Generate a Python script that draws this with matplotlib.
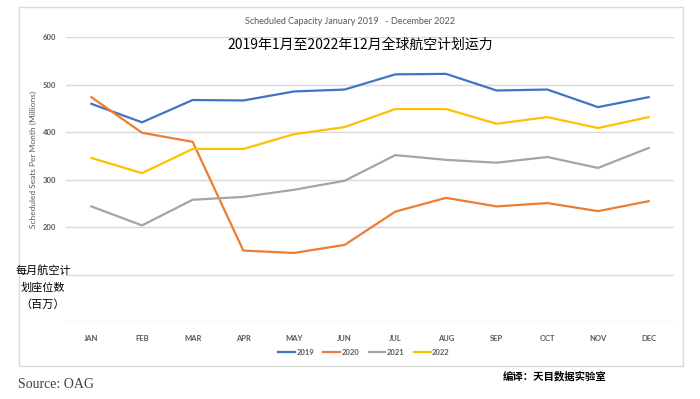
import matplotlib.pyplot as plt
from matplotlib.patches import Rectangle

months = ["JAN", "FEB", "MAR", "APR", "MAY", "JUN", "JUL", "AUG", "SEP", "OCT", "NOV", "DEC"]
y2019 = [460, 421, 468, 467, 486, 490, 522, 523, 488, 490, 453, 474]
y2020 = [474, 399, 380, 151, 146, 163, 233, 262, 244, 251, 234, 255]
y2021 = [244, 204, 258, 264, 279, 298, 352, 342, 336, 348, 325, 367]
y2022 = [346, 314, 365, 365, 396, 411, 449, 449, 418, 432, 409, 432]
yticks = [0, 100, 200, 300, 400, 500, 600]
ytick_labels = ["", "", "200", "300", "400", "500", "600"]

plt.rcParams["font.family"] = ["Lato", "Noto Sans CJK SC", "DejaVu Sans"]
fig = plt.figure(figsize=(7, 3.99), dpi=100)

# outer chart border
fig.patches.append(Rectangle((19 / 700, 1 - 366 / 399), 664 / 700, 359 / 399,
                             transform=fig.transFigure, fill=False,
                             edgecolor="#d9d9d9", lw=1))

ax = fig.add_axes([66 / 700, 1 - 322.3 / 399, 608 / 700, 285 / 399])
x = range(len(months))
ax.plot(x, y2019, color="#4472C4", lw=1.6, label="2019")
ax.plot(x, y2020, color="#ED7D31", lw=1.6, label="2020")
ax.plot(x, y2021, color="#A5A5A5", lw=1.6, label="2021")
ax.plot(x, y2022, color="#FFC000", lw=1.6, label="2022")

ax.set_xlim(-0.5, 11.5)
ax.set_ylim(0, 600)
ax.set_yticks(yticks)
ax.set_yticklabels(ytick_labels)
ax.set_xticks(list(x))
ax.set_xticklabels(months)
ax.tick_params(length=0, labelsize=5.5, labelcolor="#595959", pad=9)
ax.tick_params(axis="y", pad=7)
for lab in ax.get_xticklabels() + ax.get_yticklabels():
    lab.set_fontweight("bold")
ax.grid(axis="y", color="#d9d9d9", lw=1)
ax.set_axisbelow(True)
for s in ax.spines.values():
    s.set_visible(False)
ax.set_ylabel("Scheduled Seats Per Month (Millions)", fontsize=6, color="#595959")
ax.yaxis.set_label_coords(-0.048, 0.57)

leg = ax.legend(loc="center", bbox_to_anchor=(0.49, -0.105), ncol=4, frameon=False,
                fontsize=5.5, handlelength=2.2, handletextpad=0.2, columnspacing=1.2,
                labelcolor="#595959")
for t in leg.get_texts():
    t.set_fontweight("bold")

fig.text(0.5, 1 - 22 / 399, "Scheduled Capacity January 2019   - December 2022",
         ha="center", va="center", fontsize=6.5, color="#595959")
fig.text(360 / 700, 1 - 45 / 399, "2019年1月至2022年12月全球航空计划运力",
         ha="center", va="center", fontsize=10, color="black",
         family=["Noto Sans CJK SC", "DejaVu Sans"])
fig.text(43 / 700, 1 - 287 / 399, "每月航空计\n划座位数\n（百万）",
         ha="center", va="center", fontsize=8, color="black", linespacing=1.75,
         family=["Noto Sans CJK SC", "DejaVu Sans"])
fig.text(18 / 700, 1 - 385 / 399, "Source: OAG", ha="left", va="center",
         fontsize=10, color="#404040", family=["Liberation Serif"])
fig.text(555 / 700, 1 - 376 / 399, "编译：天目数据实验室", ha="center", va="center",
         fontsize=7.5, color="black", fontweight="bold",
         family=["Noto Sans CJK SC", "DejaVu Sans"])

fig.savefig("out.png", dpi=100)
